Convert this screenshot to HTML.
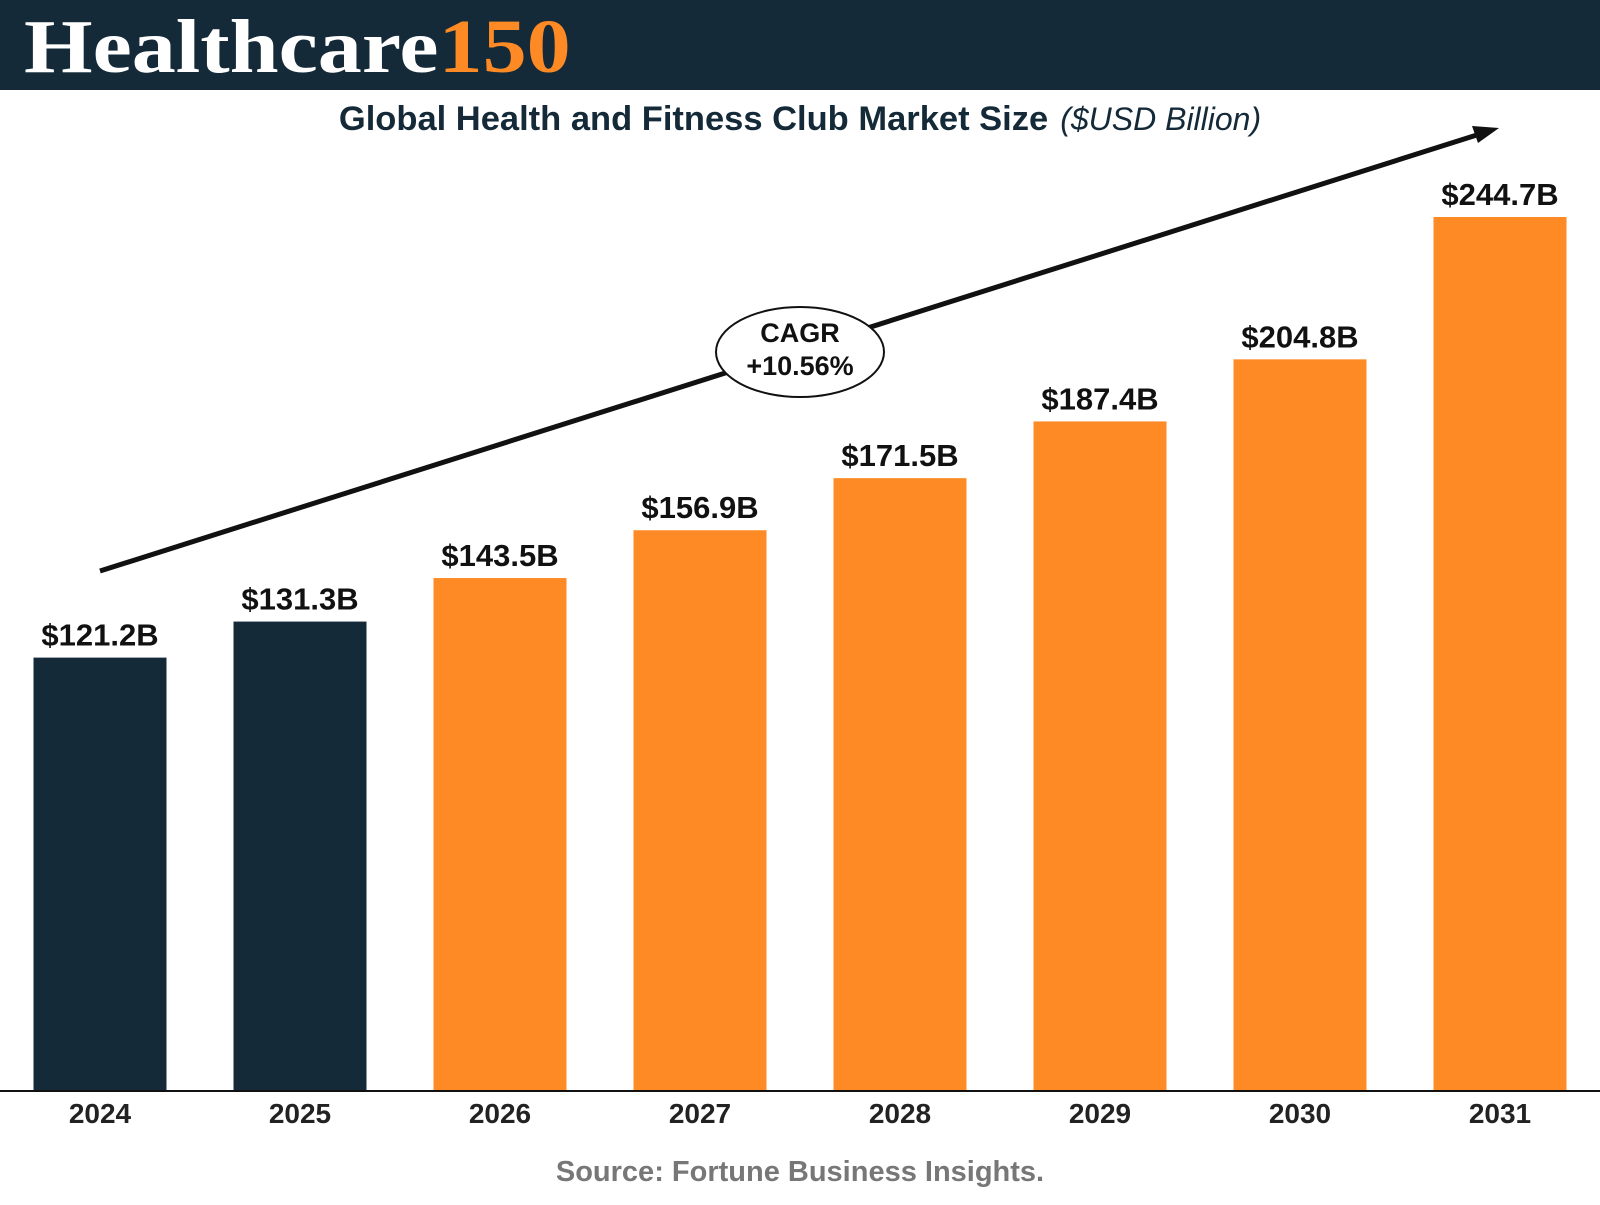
<!DOCTYPE html>
<html><head><meta charset="utf-8"><style>
body{margin:0;width:1600px;height:1200px;background:#fff;overflow:hidden;font-family:"Liberation Sans",sans-serif}
</style></head><body>
<svg width="1600" height="1200">
<rect x="0" y="0" width="1600" height="90" fill="#152a38"/>
<g transform="translate(24,72) scale(1.16,1)">
<text x="0" y="0" font-family="Liberation Serif,serif" font-weight="bold" font-size="76" fill="#fff">Healthcare<tspan fill="#fd8a24">150</tspan></text>
</g>
<text x="800" y="130" text-anchor="middle" font-size="34.5" fill="#152a38"><tspan font-weight="bold">Global Health and Fitness Club Market Size</tspan><tspan font-style="italic" font-size="32" dx="12">($USD Billion)</tspan></text>
<g id="bars"></g>
<line x1="0" y1="1091" x2="1600" y2="1091" stroke="#111" stroke-width="2"/>
<line x1="100" y1="571" x2="1480" y2="134" stroke="#111" stroke-width="5"/>
<polygon points="1499,128 1472,126 1478,143" fill="#111"/>
<ellipse cx="800" cy="352" rx="84" ry="45" fill="#fff" stroke="#111" stroke-width="2"/>
<text x="800" y="342" text-anchor="middle" font-size="27" font-weight="bold" fill="#111">CAGR</text>
<text x="800" y="375" text-anchor="middle" font-size="27" font-weight="bold" fill="#111">+10.56%</text>
<text x="800" y="1181" text-anchor="middle" font-size="29" font-weight="bold" fill="#777">Source: Fortune Business Insights.</text>
</svg>
<script>
const years=["2024","2025","2026","2027","2028","2029","2030","2031"];
const values=[121.2,131.3,143.5,156.9,171.5,187.4,204.8,244.7];
const labels=["$121.2B","$131.3B","$143.5B","$156.9B","$171.5B","$187.4B","$204.8B","$244.7B"];
const actual=[true,true,false,false,false,false,false,false];
const NS="http://www.w3.org/2000/svg";
const baseY=1090, scale=873/244.7, x0=100, step=200, bw=133;
const xs=i=>x0+i*step, ys=v=>baseY-v*scale;
const g=document.getElementById('bars');
years.forEach((y,i)=>{
  const top=ys(values[i]);
  const r=document.createElementNS(NS,'rect');
  r.setAttribute('x',xs(i)-bw/2);r.setAttribute('y',top);r.setAttribute('width',bw);r.setAttribute('height',baseY-top);
  r.setAttribute('fill',actual[i]?'#152a38':'#fd8a24');
  
  
  g.appendChild(r);
  const t=document.createElementNS(NS,'text');
  t.setAttribute('x',xs(i));t.setAttribute('y',top-12);t.setAttribute('text-anchor','middle');
  t.setAttribute('font-size','31');t.setAttribute('font-weight','bold');t.setAttribute('fill','#111');
  t.textContent=labels[i];
  
  
  g.appendChild(t);
  const yl=document.createElementNS(NS,'text');
  yl.setAttribute('x',xs(i));yl.setAttribute('y',1123);yl.setAttribute('text-anchor','middle');
  yl.setAttribute('font-size','28');yl.setAttribute('font-weight','bold');yl.setAttribute('fill','#222');
  yl.textContent=y;
  
  
  g.appendChild(yl);
});
</script>
</body></html>
